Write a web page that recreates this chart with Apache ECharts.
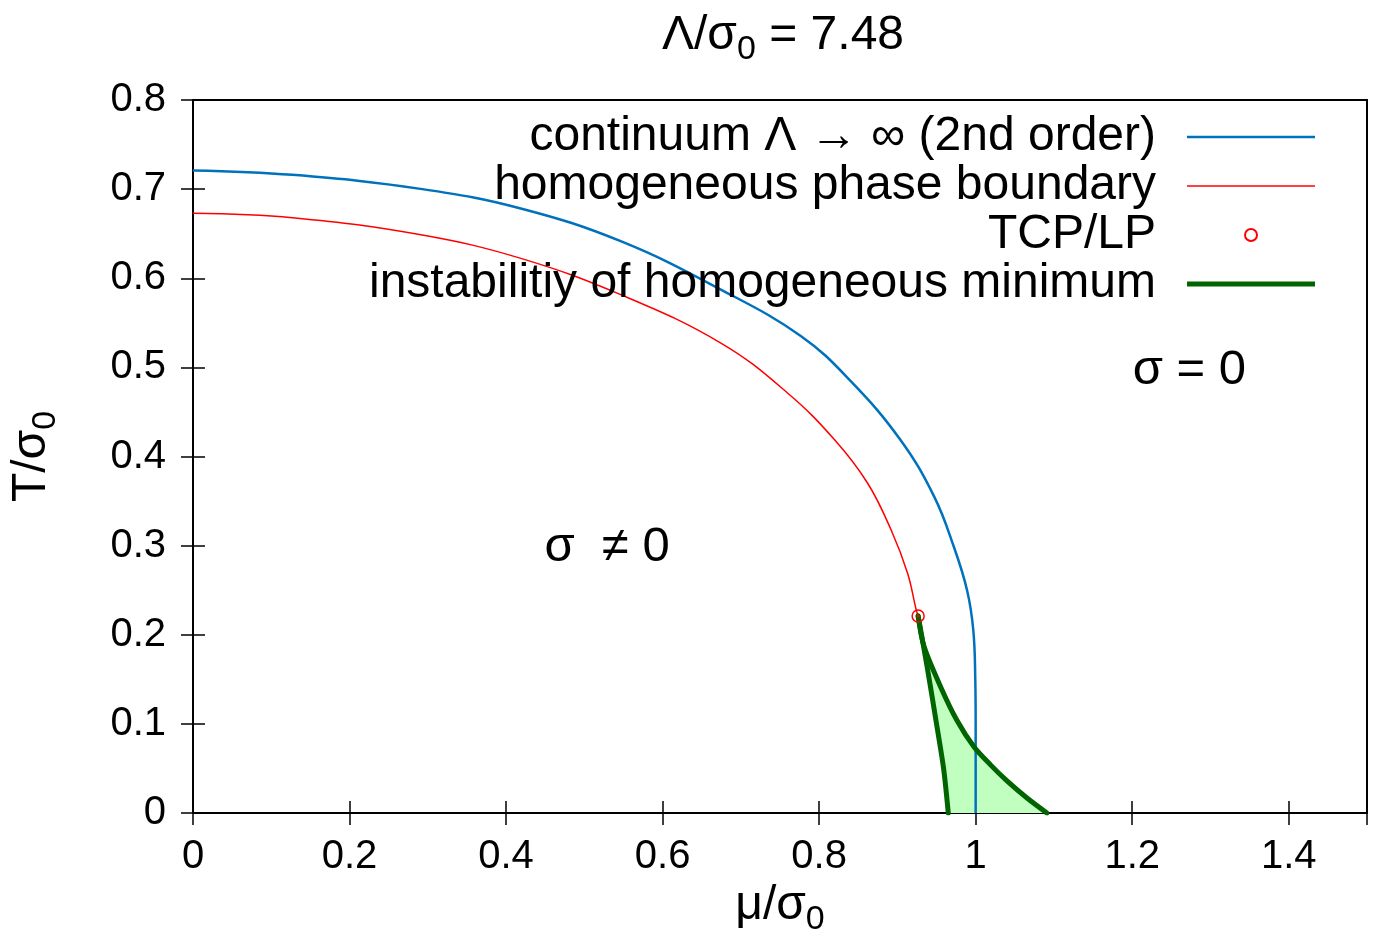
<!DOCTYPE html>
<html>
<head>
<meta charset="utf-8">
<title>phase diagram</title>
<script src="https://cdn.jsdelivr.net/npm/echarts@6/dist/echarts.min.js"></script>
<style>
  html, body { margin: 0; padding: 0; background: #fff; }
  #chart { width: 1376px; height: 944px; }
</style>
</head>
<body>
<div id="chart"></div>
<script>
// 数据
var continuumMu = [0, 0.127, 0.293, 0.420, 0.548, 0.675, 0.777, 0.841, 0.904, 0.947, 0.972, 0.989, 0.997, 0.9995, 1.0, 1.0];
var continuumT  = [0.721, 0.716, 0.700, 0.678, 0.641, 0.587, 0.535, 0.484, 0.4185, 0.355, 0.299, 0.250, 0.205, 0.15, 0.10, 0];

var boundaryMu = [0, 0.127, 0.293, 0.420, 0.548, 0.675, 0.760, 0.820, 0.862, 0.892, 0.913, 0.924, 0.9265];
var boundaryT  = [0.673, 0.668, 0.6485, 0.622, 0.581, 0.527, 0.471, 0.4185, 0.370, 0.3175, 0.269, 0.228, 0.221];

var tcpMu = [0.9265];
var tcpT  = [0.221];

// 不稳定区域 two branches, both starting at the TCP
var instabLeftMu  = [0.9265, 0.938, 0.950, 0.959, 0.965];
var instabLeftT   = [0.221, 0.164, 0.100, 0.050, 0];
var instabRightMu = [0.9265, 0.934, 0.955, 0.976, 0.998, 1.019, 1.040, 1.066, 1.091];
var instabRightT  = [0.221, 0.187, 0.142, 0.104, 0.074, 0.054, 0.036, 0.0165, 0];

var xTicks = { min: 0, max: 1.5, interval: 0.2 };
var yTicks = { min: 0, max: 0.8, interval: 0.1 };

var regionLabels = [
  { mu: 1.273, T: 0.497, text: 'σ = 0' },
  { mu: 0.529, T: 0.298, text: 'σ  ≠ 0' }
];

function zip(a, b) {
  return a.map(function (v, i) { return [v, b[i]]; });
}

var FONT = "'Liberation Sans', Arial, Helvetica, sans-serif";
var chart = echarts.init(document.getElementById('chart'));

var subRich = {
  a: { fontSize: 48, fontFamily: FONT, color: '#000', fontWeight: 'normal' },
  s: { fontSize: 34, fontFamily: FONT, color: '#000', fontWeight: 'normal', padding: [28, 0, 0, 0] }
};

var NAME_LEFT = 'instabilitiy of homogeneous minimum';
var axisLineStyle = { show: true, lineStyle: { color: '#000', width: 2 } };
var tickStyle = { inside: true, length: 12, lineStyle: { color: '#000', width: 1.5 } };
var fmt = function (v) { return String(Math.round(v * 10) / 10); };

// polygon outline: left branch reversed (bottom -> TCP) then right branch
var fillMu = instabLeftMu.slice().reverse().concat(instabRightMu.slice(1));
var fillT  = instabLeftT.slice().reverse().concat(instabRightT.slice(1));

var option = {
  animation: false,
  backgroundColor: '#fff',
  title: {
    text: '{a|Λ/σ}{s|0}{a| = 7.48}',
    left: 778,
    textAlign: 'center',
    top: 0,
    textStyle: { rich: subRich }
  },
  grid: {
    left: 190, right: 9, top: 100, bottom: 131,
    show: true, borderColor: '#000', borderWidth: 2,
    containLabel: false
  },
  legend: {
    orient: 'vertical',
    align: 'right',
    right: 56,
    top: 108,
    itemWidth: 128,
    itemHeight: 12,
    itemGap: 1,
    selectedMode: false,
    textStyle: {
      fontSize: 48, fontFamily: FONT, color: '#000',
      padding: [0, 26, 0, 0]
    },
    data: [
      { name: 'continuum Λ → ∞ (2nd order)', icon: 'path://M0,0H128V2.5H0Z' },
      { name: 'homogeneous phase boundary', icon: 'path://M0,0H128V1.5H0Z' },
      { name: 'TCP/LP' },
      { name: NAME_LEFT, icon: 'path://M0,0H128V5H0Z' }
    ]
  },
  xAxis: [{
    type: 'value',
    min: xTicks.min, max: xTicks.max, interval: xTicks.interval,
    name: '{a|μ/σ}{s|0}',
    nameLocation: 'middle',
    nameGap: 60,
    nameTextStyle: { rich: subRich },
    axisLine: axisLineStyle,
    axisTick: tickStyle,
    axisLabel: {
      fontSize: 40, fontFamily: FONT, color: '#000', margin: 24,
      showMaxLabel: false, formatter: fmt
    },
    splitLine: { show: false }
  }, {
    type: 'value', position: 'top',
    min: xTicks.min, max: xTicks.max, interval: xTicks.interval,
    axisLine: axisLineStyle, axisTick: tickStyle,
    axisLabel: { show: false }, splitLine: { show: false }
  }],
  yAxis: [{
    type: 'value',
    min: yTicks.min, max: yTicks.max, interval: yTicks.interval,
    name: '{a|T/σ}{s|0}',
    nameLocation: 'middle',
    nameRotate: 90,
    nameGap: 130,
    nameTextStyle: { rich: subRich },
    axisLine: axisLineStyle,
    axisTick: tickStyle,
    axisLabel: {
      fontSize: 40, fontFamily: FONT, color: '#000', margin: 27, formatter: fmt
    },
    splitLine: { show: false }
  }, {
    type: 'value', position: 'right',
    min: yTicks.min, max: yTicks.max, interval: yTicks.interval,
    axisLine: axisLineStyle, axisTick: tickStyle,
    axisLabel: { show: false }, splitLine: { show: false }
  }],
  series: [
    {
      // 绿色填充区域
      type: 'custom',
      silent: true,
      data: zip(fillMu, fillT),
      z: 1,
      renderItem: function (params, api) {
        if (params.dataIndex !== 0) return;
        var pts = fillMu.map(function (m, i) { return api.coord([m, fillT[i]]); });
        return {
          type: 'polygon',
          shape: { points: pts, smooth: 0 },
          style: { fill: '#c0ffc0', stroke: 'none' }
        };
      }
    },
    {
      name: 'continuum Λ → ∞ (2nd order)',
      type: 'line',
      data: zip(continuumMu, continuumT),
      symbol: 'none',
      smooth: 0.4,
      lineStyle: { color: '#0072bd', width: 2.5 },
      itemStyle: { color: '#0072bd' },
      z: 3
    },
    {
      name: 'homogeneous phase boundary',
      type: 'line',
      data: zip(boundaryMu, boundaryT),
      symbol: 'none',
      smooth: 0.4,
      lineStyle: { color: '#ff0000', width: 1.5 },
      itemStyle: { color: '#ff0000' },
      z: 3
    },
    {
      name: NAME_LEFT,
      type: 'line',
      data: zip(instabLeftMu, instabLeftT),
      symbol: 'none',
      smooth: 0.3,
      lineStyle: { color: '#006400', width: 5, cap: 'round' },
      itemStyle: { color: '#006400' },
      z: 4
    },
    {
      name: NAME_LEFT,
      type: 'line',
      data: zip(instabRightMu, instabRightT),
      symbol: 'none',
      smooth: 0.3,
      lineStyle: { color: '#006400', width: 5, cap: 'round' },
      itemStyle: { color: '#006400' },
      z: 4
    },
    {
      name: 'TCP/LP',
      type: 'scatter',
      data: zip(tcpMu, tcpT),
      symbol: 'circle',
      symbolSize: 12,
      itemStyle: { color: 'rgba(255,255,255,0)', borderColor: '#ff0000', borderWidth: 1.5, opacity: 1 },
      z: 5
    },
    {
      type: 'scatter',
      data: zip(tcpMu, tcpT),
      symbol: 'circle',
      symbolSize: 3,
      itemStyle: { color: '#ff0000', opacity: 1 },
      silent: true,
      z: 5
    },
    {
      // 区域文字
      type: 'scatter',
      data: regionLabels.map(function (r) { return { value: [r.mu, r.T], label: { formatter: r.text } }; }),
      symbolSize: 0,
      silent: true,
      itemStyle: { opacity: 1 },
      label: {
        show: true, position: 'inside',
        fontSize: 49, fontFamily: FONT, color: '#000', opacity: 1
      },
      z: 6
    }
  ]
};

chart.setOption(option);
</script>
</body>
</html>
